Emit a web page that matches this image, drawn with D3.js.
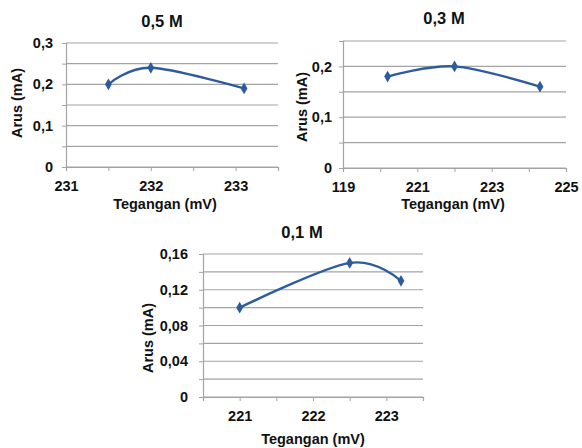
<!DOCTYPE html>
<html>
<head>
<meta charset="utf-8">
<script src="https://cdn.jsdelivr.net/npm/d3@7"></script>
<style>
  body { margin: 0; background: #fff; }
  text { font-family: "Liberation Sans", Arial, sans-serif; font-weight: bold; fill: #111; }
</style>
</head>
<body>
<div id="chart"></div>
<script>
// Arus vs Tegangan, three concentrations

// 0,5 M
const volt05 = [231.5, 232, 233.1];
const arus05 = [0.2, 0.24, 0.19];
const xTicks05 = [231, 231.5, 232, 232.5, 233, 233.5];
const xLabels05 = ["231", "", "232", "", "233", ""];
const yGrid05 = [0, 0.05, 0.1, 0.15, 0.2, 0.25, 0.3];
const yLabels05 = ["0", "", "0,1", "", "0,2", "", "0,3"];

// 0,3 M
const volt03 = [220.2, 222, 224.3];
const arus03 = [0.18, 0.2, 0.16];
const xTicks03 = [219, 220, 221, 222, 223, 224, 225];
const xLabels03 = ["119", "", "221", "", "223", "", "225"];
const yGrid03 = [0, 0.05, 0.1, 0.15, 0.2, 0.25];
const yLabels03 = ["0", "", "0,1", "", "0,2", ""];

// 0,1 M
const volt01 = [221, 222.5, 223.2];
const arus01 = [0.10, 0.15, 0.13];
const xTicks01 = [220.5, 221, 221.5, 222, 222.5, 223, 223.5];
const xLabels01 = ["", "221", "", "222", "", "223", ""];
const yGrid01 = [0, 0.02, 0.04, 0.06, 0.08, 0.1, 0.12, 0.14, 0.16];
const yLabels01 = ["0", "", "0,04", "", "0,08", "", "0,12", "", "0,16"];

const svg = d3.select("#chart").append("svg")
    .attr("width", 582)
    .attr("height", 448);

const lineColor = "#2c5c9e";
const gridColor = "#a3a3a3";

function drawPanel(p) {
    const x = d3.scaleLinear().domain(d3.extent(p.xTicks)).range([p.left, p.right]);
    const y = d3.scaleLinear().domain(d3.extent(p.yGrid)).range([p.bottom, p.top]);
    const g = svg.append("g");

    // gridlines
    g.append("g").selectAll("line")
        .data(p.yGrid)
        .join("line")
        .attr("x1", p.left).attr("x2", p.right)
        .attr("y1", d => y(d)).attr("y2", d => y(d))
        .attr("stroke", gridColor).attr("stroke-width", 1.2);

    // y axis
    const ya = g.append("g")
        .attr("transform", `translate(${p.left},0)`)
        .call(d3.axisLeft(y).tickValues(p.yGrid).tickSize(4).tickPadding(p.yPad)
            .tickFormat((d, i) => p.yLabels[i]));
    ya.select(".domain").attr("stroke", gridColor).attr("stroke-width", 1.2);
    ya.selectAll(".tick line").attr("stroke", gridColor);
    ya.selectAll("text").attr("font-size", 14.5).attr("fill", "#111");

    // x axis
    const xa = g.append("g")
        .attr("transform", `translate(0,${p.bottom})`)
        .call(d3.axisBottom(x).tickValues(p.xTicks).tickSize(4).tickPadding(p.xPad)
            .tickFormat((d, i) => p.xLabels[i]));
    xa.select(".domain").attr("stroke", gridColor).attr("stroke-width", 1.2);
    xa.selectAll(".tick line").attr("stroke", gridColor);
    xa.selectAll("text").attr("font-size", 14.5).attr("fill", "#111");

    // data line
    const pts = p.volt.map((v, i) => [v, p.arus[i]]);
    const line = d3.line()
        .x(d => x(d[0]))
        .y(d => y(d[1]))
        .curve(d3.curveCardinal.tension(0));
    g.append("path")
        .datum(pts)
        .attr("d", line)
        .attr("fill", "none")
        .attr("stroke", lineColor)
        .attr("stroke-width", 2.4);

    g.append("g").selectAll("path")
        .data(pts)
        .join("path")
        .attr("transform", d => `translate(${x(d[0])},${y(d[1])})`)
        .attr("d", d3.symbol().type(d3.symbolDiamond).size(40))
        .attr("fill", lineColor);

    // titles
    g.append("text")
        .attr("x", p.titleX).attr("y", p.titleY)
        .attr("text-anchor", "middle")
        .attr("dominant-baseline", "central")
        .attr("font-size", 16.5)
        .text(p.title);

    g.append("text")
        .attr("transform", `translate(${p.yTitleX},${p.yTitleY}) rotate(-90)`)
        .attr("text-anchor", "middle")
        .attr("dominant-baseline", "central")
        .attr("font-size", 14.5)
        .text("Arus (mA)");

    g.append("text")
        .attr("x", p.xTitleX).attr("y", p.xTitleY)
        .attr("text-anchor", "middle")
        .attr("dominant-baseline", "central")
        .attr("font-size", 14.5)
        .text("Tegangan (mV)");
}

drawPanel({
    title: "0,5 M", volt: volt05, arus: arus05,
    xTicks: xTicks05, xLabels: xLabels05, yGrid: yGrid05, yLabels: yLabels05,
    left: 66, right: 278, top: 43, bottom: 167,
    yPad: 9, xPad: 10,
    titleX: 162, titleY: 21, yTitleX: 17, yTitleY: 103, xTitleX: 165, xTitleY: 204
});

drawPanel({
    title: "0,3 M", volt: volt03, arus: arus03,
    xTicks: xTicks03, xLabels: xLabels03, yGrid: yGrid03, yLabels: yLabels03,
    left: 343, right: 566, top: 41, bottom: 168,
    yPad: 7, xPad: 10,
    titleX: 444, titleY: 18, yTitleX: 302, yTitleY: 107, xTitleX: 453, xTitleY: 204
});

drawPanel({
    title: "0,1 M", volt: volt01, arus: arus01,
    xTicks: xTicks01, xLabels: xLabels01, yGrid: yGrid01, yLabels: yLabels01,
    left: 203, right: 423, top: 254, bottom: 397,
    yPad: 11, xPad: 10,
    titleX: 302, titleY: 232, yTitleX: 148, yTitleY: 338, xTitleX: 313, xTitleY: 439
});
</script>
</body>
</html>
